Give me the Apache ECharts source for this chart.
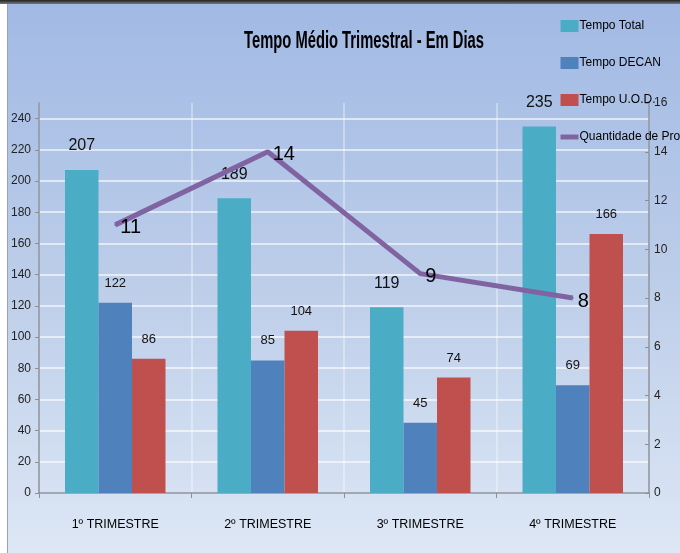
<!DOCTYPE html>
<html>
<head>
<meta charset="utf-8">
<script src="https://cdn.jsdelivr.net/npm/echarts@6/dist/echarts.min.js"></script>
<style>
  html, body { margin: 0; padding: 0; background: #fff; }
  #wrap { position: relative; width: 680px; height: 553px; overflow: hidden; }
  #main { position: absolute; left: 0; top: 0; width: 680px; height: 553px; }
  /* moldura do print */
  #topbar { position: absolute; left: 0; top: 0; width: 680px; height: 4px; background: linear-gradient(#222, #777); }
  #leftbar { position: absolute; left: 0; top: 4px; width: 7px; height: 549px; background: #fff; border-right: 1px solid #9aa3b0; }
</style>
</head>
<body>
<div id="wrap">
  <div id="main"></div>
  <div id="topbar"></div>
  <div id="leftbar"></div>
</div>
<script>
// dados
const trimestres = ['1º TRIMESTRE', '2º TRIMESTRE', '3º TRIMESTRE', '4º TRIMESTRE'];
const tempoTotal = [207, 189, 119, 235];
const tempoDecan = [122, 85, 45, 69];
const tempoUod = [86, 104, 74, 166];
const qtdProcessos = [11, 14, 9, 8];

const titulo = 'Tempo Médio Trimestral - Em Dias';
const fonte = "'Liberation Sans Narrow', 'Liberation Sans', sans-serif";

const myChart = echarts.init(document.getElementById('main'));

// o título original é bem condensado: mede e comprime na horizontal
const fonteTitulo = "bold 23px 'Liberation Sans', sans-serif";
const ctx = document.createElement('canvas').getContext('2d');
ctx.font = fonteTitulo;
const escalaTitulo = 240 / ctx.measureText(titulo).width;

const barLabel = (size, dist) => ({
  show: true,
  position: 'top',
  distance: dist,
  color: '#111',
  fontSize: size,
  fontFamily: fonte,
});

const option = {
  backgroundColor: {
    type: 'linear', x: 0, y: 0, x2: 0, y2: 1,
    colorStops: [
      { offset: 0, color: '#a1b9e4' },
      { offset: 0.5, color: '#bccde9' },
      { offset: 1, color: '#dde7f5' },
    ],
  },
  textStyle: { fontFamily: fonte },
  graphic: [
    {
      type: 'text',
      x: 364,
      y: 42,
      scaleX: escalaTitulo,
      style: {
        text: titulo,
        font: fonteTitulo,
        fill: '#000',
        align: 'center',
        verticalAlign: 'middle',
      },
    },
  ],
  legend: {
    orient: 'vertical',
    left: 553,
    top: 15,
    itemWidth: 18,
    itemHeight: 12,
    itemGap: 25,
    textStyle: { fontSize: 12, color: '#000', fontFamily: fonte, padding: [0, 0, 0, -4] },
    data: [
      { name: 'Tempo Total', icon: 'rect' },
      { name: 'Tempo DECAN', icon: 'rect' },
      { name: 'Tempo U.O.D.', icon: 'rect' },
      { name: 'Quantidade de Processos', itemStyle: { opacity: 0 }, lineStyle: { width: 5 } },
    ],
  },
  grid: { left: 39, right: 31, top: 103, bottom: 60 },
  xAxis: {
    type: 'category',
    data: trimestres,
    axisLine: { lineStyle: { color: '#8a8f99', width: 1.5 } },
    axisTick: { show: true, length: 5, lineStyle: { color: '#8a8f99' } },
    axisLabel: { fontSize: 12.5, color: '#000', margin: 25, fontFamily: fonte },
    splitLine: { show: true, lineStyle: { color: 'rgba(255,255,255,0.45)', width: 1.5 } },
  },
  yAxis: [
    {
      type: 'value',
      min: 0,
      max: 250,
      interval: 20,
      axisLine: { show: true, lineStyle: { color: '#8a8f99', width: 1.5 } },
      axisTick: { show: true, length: 4, lineStyle: { color: '#8a8f99' } },
      axisLabel: { fontSize: 12, color: '#222', margin: 8, showMaxLabel: false, fontFamily: fonte },
      splitLine: { show: true, showMaxLine: false, lineStyle: { color: 'rgba(255,255,255,0.6)', width: 2 } },
    },
    {
      type: 'value',
      min: 0,
      max: 16,
      interval: 2,
      axisLine: { show: true, lineStyle: { color: '#8a8f99', width: 1.5 } },
      axisTick: { show: true, inside: true, length: 4, lineStyle: { color: '#8a8f99' } },
      axisLabel: { fontSize: 12, color: '#222', margin: 5, fontFamily: fonte },
      splitLine: { show: false },
    },
  ],
  series: [
    {
      name: 'Tempo Total',
      type: 'bar',
      data: tempoTotal,
      barWidth: 33.5,
      barGap: '0%',
      itemStyle: { color: '#4bacc6' },
      label: barLabel(16, 16),
    },
    {
      name: 'Tempo DECAN',
      type: 'bar',
      data: tempoDecan,
      barWidth: 33.5,
      barGap: '0%',
      itemStyle: { color: '#4f81bd' },
      label: barLabel(13, 13),
    },
    {
      name: 'Tempo U.O.D.',
      type: 'bar',
      data: tempoUod,
      barWidth: 33.5,
      barGap: '0%',
      itemStyle: { color: '#c0504d' },
      label: barLabel(13, 13),
    },
    {
      name: 'Quantidade de Processos',
      type: 'line',
      yAxisIndex: 1,
      data: qtdProcessos,
      symbol: 'circle',
      symbolSize: 2,
      itemStyle: { color: '#8064a2' },
      lineStyle: { color: '#8064a2', width: 5 },
      label: {
        show: true,
        position: 'right',
        distance: 4,
        offset: [0, 3],
        fontSize: 20,
        color: '#000',
        fontFamily: fonte,
      },
      z: 5,
    },
  ],
};

option && myChart.setOption(option);
</script>
</body>
</html>
